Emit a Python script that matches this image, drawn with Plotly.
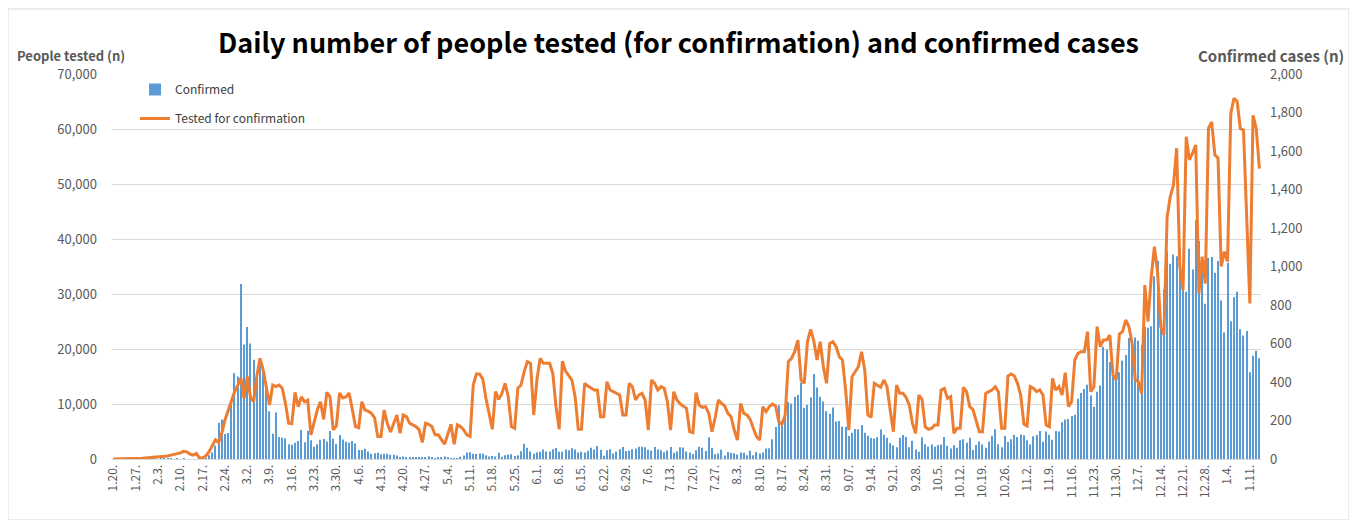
import pandas as pd
import plotly.graph_objects as go

# ---------------- data ----------------
start_date = "2020-01-20"
end_date = "2021-01-14"

tick_labels = ["1.20.", "1.27.", "2.3.", "2.10.", "2.17.", "2.24.", "3.2.", "3.9.", "3.16.",
               "3.23.", "3.30.", "4.6.", "4.13.", "4.20.", "4.27.", "5.4.", "5.11.", "5.18.",
               "5.25.", "6.1.", "6.8.", "6.15.", "6.22.", "6.29.", "7.6.", "7.13.", "7.20.",
               "7.27.", "8.3.", "8.10.", "8.17.", "8.24.", "8.31.", "9.07.", "9.14.", "9.21.",
               "9.28.", "10.5.", "10.12.", "10.19.", "10.26.", "11.2.", "11.9.", "11.16.",
               "11.23.", "11.30.", "12.7.", "12.14.", "12.21.", "12.28.", "1.4.", "1.11."]

# Confirmed cases (right axis), by month
confirmed_2020_01 = [1, 0, 0, 0, 1, 0, 1, 1, 0, 0, 2, 5]
confirmed_2020_02 = [1, 3, 0, 1, 3, 4, 1, 0, 3, 0, 1, 0, 0, 0, 0, 2, 0, 1, 20, 34, 70, 188, 205,
                     130, 135, 280, 446, 429, 909]
confirmed_2020_03 = [595, 686, 600, 516, 438, 518, 483, 367, 248, 131, 242, 114, 110, 107, 76, 74,
                     84, 93, 152, 87, 147, 98, 64, 76, 100, 104, 91, 146, 105, 78, 125]
confirmed_2020_04 = [101, 89, 86, 94, 81, 47, 47, 53, 39, 27, 30, 32, 25, 27, 27, 22, 22, 18, 8,
                     13, 9, 11, 8, 6, 10, 10, 10, 14, 9, 4]
confirmed_2020_05 = [9, 6, 13, 8, 3, 2, 4, 12, 18, 34, 35, 27, 26, 29, 27, 19, 13, 15, 13, 32, 12,
                     20, 23, 25, 16, 19, 40, 79, 58, 39, 27]
confirmed_2020_06 = [35, 38, 49, 39, 39, 51, 57, 38, 38, 50, 45, 56, 49, 34, 37, 34, 43, 59, 49,
                     67, 48, 17, 46, 51, 28, 39, 51, 62, 42, 43]
confirmed_2020_07 = [51, 54, 63, 63, 61, 48, 44, 62, 50, 45, 35, 44, 62, 33, 39, 61, 60, 39, 34,
                     26, 45, 63, 59, 41, 113, 58, 25, 28, 48, 18, 36]
confirmed_2020_08 = [31, 30, 23, 34, 33, 20, 43, 20, 36, 28, 34, 54, 56, 103, 166, 279, 197, 246,
                     297, 288, 324, 332, 397, 266, 280, 320, 441, 371, 323, 299, 248]
confirmed_2020_09 = [235, 267, 195, 198, 168, 167, 119, 136, 156, 155, 176, 136, 121, 109, 106,
                     113, 153, 126, 110, 82, 70, 61, 110, 125, 114, 61, 95, 50, 38, 113]
confirmed_2020_10 = [77, 63, 75, 64, 73, 75, 114, 69, 54, 72, 58, 97, 102, 84, 110, 47, 73, 91,
                     76, 58, 91, 121, 155, 77, 61, 119, 88, 103, 125, 114, 127]
confirmed_2020_11 = [124, 97, 75, 118, 125, 145, 89, 143, 126, 100, 146, 143, 191, 205, 208, 223,
                     230, 313, 343, 363, 386, 330, 271, 349, 382, 583, 569, 504, 450, 438]
confirmed_2020_12 = [451, 511, 540, 629, 583, 631, 615, 594, 686, 682, 689, 950, 1030, 718, 880,
                     1078, 1014, 1062, 1053, 1097, 926, 869, 1092, 985, 1241, 1132, 970, 807,
                     1045, 1050, 967]
confirmed_2021_01 = [1029, 824, 657, 1020, 715, 840, 869, 674, 641, 665, 451, 537, 562, 524]

# People tested for confirmation (left axis), by month
tested_2020_01 = [5, 10, 15, 20, 30, 40, 60, 80, 100, 150, 200, 250]
tested_2020_02 = [300, 320, 350, 400, 450, 550, 700, 800, 1000, 1100, 1400, 1300, 900, 700, 1000,
                  200, 250, 550, 1330, 2300, 3500, 3000, 4700, 7100, 8900, 10700, 12200, 13400,
                  14700]
tested_2020_03 = [11000, 15000, 11300, 10400, 15100, 18300, 16200, 13100, 9800, 13450, 13150,
                  13450, 12850, 10100, 6500, 6400, 12100, 9500, 11300, 10400, 10700, 4400, 6500,
                  8900, 10400, 7200, 12100, 11300, 5300, 6000, 12000]
tested_2020_04 = [11100, 11300, 12000, 9000, 5900, 5700, 10400, 8900, 8700, 8300, 7500, 4100,
                  4100, 8900, 6500, 4900, 6500, 8000, 4700, 8000, 7700, 6500, 6200, 5900, 5300,
                  3000, 6500, 6300, 5900, 4400]
tested_2020_05 = [4400, 3500, 2700, 4500, 6300, 2700, 6200, 5900, 5300, 4400, 4100, 13450, 15450,
                  15450, 14500, 11000, 8000, 5400, 12240, 10850, 11940, 13750, 11330, 5880, 5570,
                  12850, 13450, 15880, 17700, 17390, 8000]
tested_2020_06 = [14360, 18300, 17390, 17390, 17390, 15570, 9510, 5390, 17800, 16000, 15270,
                  14360, 11330, 5390, 5390, 13750, 13270, 12850, 12540, 12540, 7700, 7700, 14060,
                  12540, 12240, 11940, 11630, 8000, 8000, 13750]
tested_2020_07 = [13150, 10730, 11630, 11940, 10730, 5270, 14360, 13750, 12540, 13150, 12850,
                  10420, 5270, 12240, 10730, 10000, 9640, 9210, 4970, 4790, 12050, 9820, 9400,
                  9510, 8300, 4970, 7500, 10730, 10120, 9640, 8300]
tested_2020_08 = [7700, 5270, 3450, 10120, 8300, 8000, 7210, 5580, 4060, 3450, 9510, 8600, 9510,
                  10000, 9640, 6790, 6360, 8000, 17690, 18300, 19510, 21630, 14360, 13760, 21330,
                  23580, 21510, 18000, 21330, 16780, 13760]
tested_2020_09 = [21030, 21330, 20420, 18600, 18000, 12540, 5270, 14960, 15870, 16780, 19510,
                  16180, 8000, 7580, 13760, 13450, 13030, 14360, 13150, 8910, 4970, 13450, 11940,
                  11940, 11200, 9800, 6480, 4670, 11630, 10850]
tested_2020_10 = [5880, 5400, 5580, 6180, 6180, 12540, 12850, 11030, 11330, 4670, 5580, 5580,
                  13030, 12240, 9510, 9000, 6790, 4970, 4970, 11940, 12240, 12540, 13150, 12240,
                  5580, 5580, 15090, 15450, 15090, 13760, 11630]
tested_2020_11 = [6360, 6000, 13150, 12850, 12240, 12540, 11630, 6180, 5880, 14670, 12540, 13150,
                  11640, 15700, 9510, 10420, 18000, 19210, 19510, 19510, 23150, 12240, 13150,
                  24060, 20420, 21630, 21630, 22540, 15270, 14360]
tested_2020_12 = [22730, 23150, 25270, 24060, 21030, 14360, 14060, 11940, 31630, 25000, 33000,
                  38600, 34000, 24000, 22600, 44000, 47700, 49800, 56500, 35000, 30700, 58600,
                  54400, 55600, 57100, 30100, 36800, 31900, 60100, 61300, 55300]
tested_2021_01 = [54700, 35000, 37700, 35900, 62800, 65600, 65000, 60100, 59800, 42000, 28300,
                  62500, 60100, 52800]

confirmed = (confirmed_2020_01 + confirmed_2020_02 + confirmed_2020_03 + confirmed_2020_04 +
             confirmed_2020_05 + confirmed_2020_06 + confirmed_2020_07 + confirmed_2020_08 +
             confirmed_2020_09 + confirmed_2020_10 + confirmed_2020_11 + confirmed_2020_12 +
             confirmed_2021_01)
tested = (tested_2020_01 + tested_2020_02 + tested_2020_03 + tested_2020_04 + tested_2020_05 +
          tested_2020_06 + tested_2020_07 + tested_2020_08 + tested_2020_09 + tested_2020_10 +
          tested_2020_11 + tested_2020_12 + tested_2021_01)

dates = [d.strftime("%Y-%m-%d") for d in pd.date_range(start_date, end_date, freq="D")]
assert len(dates) == len(confirmed) == len(tested), (len(dates), len(confirmed), len(tested))
tick_vals = dates[::7]
assert len(tick_vals) == len(tick_labels)

# ---------------- figure ----------------
# The page body has an 8px margin, so figure coordinates = screen coordinates - 8.
OFF = 8
W, H = 1357 - 2 * OFF, 528 - 2 * OFF
PLOT_L, PLOT_R, PLOT_T, PLOT_B = 112, 1261, 74, 459          # screen pixels
L, T = PLOT_L - OFF, PLOT_T - OFF
R, B = W - (PLOT_R - OFF), H - (PLOT_B - OFF)
pw, ph = W - L - R, H - T - B


def px(xs):
    return (xs - OFF - L) / pw


def py(ys):
    return (H - B - (ys - OFF)) / ph


FONT = "Noto Sans CJK KR, Noto Sans, sans-serif"
GRAY = "#595959"

fig = go.Figure()
fig.add_trace(go.Bar(
    x=dates, y=confirmed, name="Confirmed", yaxis="y",
    marker=dict(color="#5B9BD5", line=dict(width=0)),
    legendgroup="a",
))
fig.add_trace(go.Scatter(
    x=dates, y=tested, name="Tested for confirmation", yaxis="y2",
    mode="lines", line=dict(color="#ED7D31", width=3),
    legendgroup="b",
))

fig.update_layout(
    width=W, height=H,
    margin=dict(l=L, r=R, t=T, b=B, pad=0),
    paper_bgcolor="white", plot_bgcolor="white",
    font=dict(family=FONT, color=GRAY, size=12),
    bargap=0.65,
    showlegend=True,
    legend=dict(x=px(135), y=py(75), xanchor="left", yanchor="top",
                bgcolor="rgba(0,0,0,0)", font=dict(size=12, color="#404040"),
                tracegroupgap=10, itemwidth=30),
    title=dict(text="<b>Daily number of people tested (for confirmation) and confirmed cases</b>",
               x=0.5, xanchor="center", y=1 - (44 - OFF) / H, yanchor="middle",
               font=dict(size=27, color="#000000", family=FONT)),
    xaxis=dict(
        type="category", tickmode="array", tickvals=tick_vals, ticktext=tick_labels,
        tickangle=-90, tickfont=dict(size=12, color=GRAY),
        showgrid=False, showline=True, linecolor="#D9D9D9", linewidth=1,
        ticks="", zeroline=False, range=[-0.5, len(dates) - 0.5],
    ),
    yaxis=dict(
        range=[0, 2000], dtick=200, tickformat=",", side="right",
        showgrid=False, zeroline=False, ticks="", ticklabelstandoff=8,
        tickfont=dict(size=13, color=GRAY),
    ),
    yaxis2=dict(
        range=[0, 70000], dtick=10000, tickformat=",", side="left", overlaying="y",
        showgrid=True, gridcolor="#D9D9D9", gridwidth=1, zeroline=False, ticks="",
        ticklabelstandoff=14, tickfont=dict(size=13, color=GRAY),
    ),
    annotations=[
        dict(text="<b>People tested (n)</b>", xref="paper", yref="paper",
             x=px(15), y=py(55), xanchor="left", yanchor="middle", showarrow=False,
             font=dict(size=13, color=GRAY)),
        dict(text="<b>Confirmed cases (n)</b>", xref="paper", yref="paper",
             x=px(1346), y=py(55), xanchor="right", yanchor="middle", showarrow=False,
             font=dict(size=15, color=GRAY)),
    ],
    shapes=[
        dict(type="rect", xref="paper", yref="paper", x0=px(8), x1=px(1349),
             y0=py(520), y1=py(9), line=dict(color="#D9D9D9", width=1), layer="below"),
    ],
)

fig.write_html("out.html")
